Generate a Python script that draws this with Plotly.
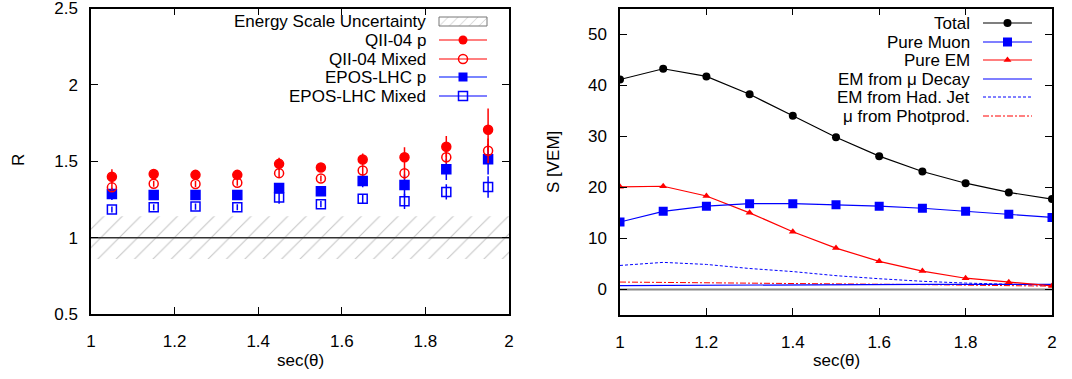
import plotly.graph_objects as go

# ---------------- data: left panel ----------------
sec_l = [1.05, 1.15, 1.25, 1.35, 1.45, 1.55, 1.65, 1.75, 1.85, 1.95]
qgs_p = [1.398, 1.416, 1.411, 1.411, 1.483, 1.459, 1.511, 1.526, 1.595, 1.706]
qgs_p_err = [0.05, 0.02, 0.02, 0.02, 0.04, 0.02, 0.04, 0.065, 0.07, 0.14]
qgs_mix = [1.329, 1.353, 1.351, 1.359, 1.422, 1.387, 1.439, 1.422, 1.526, 1.569]
qgs_mix_err = [0.02, 0.02, 0.02, 0.02, 0.03, 0.02, 0.03, 0.04, 0.04, 0.08]
epos_p = [1.286, 1.279, 1.279, 1.279, 1.325, 1.303, 1.370, 1.344, 1.448, 1.513]
epos_p_err = [0.04, 0.02, 0.02, 0.02, 0.03, 0.02, 0.04, 0.07, 0.07, 0.10]
epos_mix = [1.184, 1.199, 1.203, 1.199, 1.262, 1.219, 1.255, 1.238, 1.299, 1.331]
epos_mix_err = [0.02, 0.02, 0.02, 0.02, 0.04, 0.02, 0.03, 0.05, 0.05, 0.07]
band_x = [1.0, 2.0]
band_lo = 0.86
band_hi = 1.14
ref_R = 1.0

# ---------------- data: right panel ----------------
sec_r = [1.0, 1.1, 1.2, 1.3, 1.4, 1.5, 1.6, 1.7, 1.8, 1.9, 2.0]
total = [41.1, 43.2, 41.7, 38.2, 34.0, 29.8, 26.1, 23.1, 20.8, 19.0, 17.7]
pure_mu = [13.2, 15.3, 16.3, 16.8, 16.8, 16.6, 16.3, 15.9, 15.3, 14.7, 14.1]
pure_em = [20.1, 20.2, 18.3, 15.0, 11.3, 8.1, 5.5, 3.6, 2.2, 1.4, 0.7]
em_mu_decay = [0.75, 0.8, 0.85, 0.9, 0.95, 1.0, 1.0, 1.0, 1.0, 1.0, 1.0]
em_had_jet = [4.7, 5.3, 4.9, 4.1, 3.5, 2.7, 2.1, 1.6, 1.25, 1.0, 0.8]
mu_photo = [1.45, 1.4, 1.35, 1.3, 1.2, 1.15, 1.05, 0.95, 0.85, 0.75, 0.65]

left_legend = ["Energy Scale Uncertainty", "QII-04 p", "QII-04 Mixed", "EPOS-LHC p", "EPOS-LHC Mixed"]
right_legend = ["Total", "Pure Muon", "Pure EM", "EM from μ Decay", "EM from Had. Jet", "μ from Photprod."]

RED = "#ff0000"
BLUE = "#0000ff"
W, H = 1072, 379
FONT = "Liberation Sans, Arial, sans-serif"
FS = 17

fig = go.Figure()

# ---- left panel ----
fig.add_trace(go.Scatter(x=band_x, y=[band_lo, band_lo], mode="lines", line=dict(width=0),
                         showlegend=False, hoverinfo="skip", xaxis="x", yaxis="y"))
fig.add_trace(go.Scatter(x=band_x, y=[band_hi, band_hi], mode="lines", line=dict(width=0),
                         fill="tonexty", fillcolor="rgba(0,0,0,0)",
                         fillpattern=dict(shape="/", fgcolor="#8a8a8a", bgcolor="white", size=13, solidity=0.08),
                         showlegend=False, hoverinfo="skip", xaxis="x", yaxis="y"))
fig.add_trace(go.Scatter(x=band_x, y=[ref_R, ref_R], mode="lines", line=dict(color="#333333", width=1.5),
                         showlegend=False, xaxis="x", yaxis="y"))

def pts(x, y, err, color, symbol, size):
    return go.Scatter(x=x, y=y, mode="markers",
                      marker=dict(color=color, symbol=symbol, size=size, line=dict(color=color, width=1.5)),
                      error_y=dict(type="data", array=err, color=color, thickness=1.5, width=0),
                      showlegend=False, xaxis="x", yaxis="y")

fig.add_trace(pts(sec_l, epos_mix, epos_mix_err, BLUE, "square-open", 9))
fig.add_trace(pts(sec_l, epos_p, epos_p_err, BLUE, "square", 9))
fig.add_trace(pts(sec_l, qgs_mix, qgs_mix_err, RED, "circle-open", 9))
fig.add_trace(pts(sec_l, qgs_p, qgs_p_err, RED, "circle", 9))

# ---- right panel ----
fig.add_trace(go.Scatter(x=[1.0, 2.0], y=[0, 0], mode="lines", line=dict(color="#888888", width=2),
                         showlegend=False, xaxis="x2", yaxis="y2"))
fig.add_trace(go.Scatter(x=sec_r, y=mu_photo, mode="lines", line=dict(color=RED, width=1, dash="6px,2px,2px,2px"),
                         showlegend=False, xaxis="x2", yaxis="y2"))
fig.add_trace(go.Scatter(x=sec_r, y=em_had_jet, mode="lines", line=dict(color=BLUE, width=1, dash="3px,2px"),
                         showlegend=False, xaxis="x2", yaxis="y2"))
fig.add_trace(go.Scatter(x=sec_r, y=em_mu_decay, mode="lines", line=dict(color=BLUE, width=1.2),
                         showlegend=False, xaxis="x2", yaxis="y2"))
fig.add_trace(go.Scatter(x=sec_r, y=pure_em, mode="lines+markers", line=dict(color=RED, width=1.2),
                         marker=dict(color=RED, symbol="triangle-up", size=7),
                         showlegend=False, xaxis="x2", yaxis="y2"))
fig.add_trace(go.Scatter(x=sec_r, y=pure_mu, mode="lines+markers", line=dict(color=BLUE, width=1.2),
                         marker=dict(color=BLUE, symbol="square", size=9),
                         showlegend=False, xaxis="x2", yaxis="y2"))
fig.add_trace(go.Scatter(x=sec_r, y=total, mode="lines+markers", line=dict(color="black", width=1.2),
                         marker=dict(color="black", symbol="circle", size=8),
                         showlegend=False, xaxis="x2", yaxis="y2"))

# ---- legend samples on a pixel overlay axis (x3/y3 span the whole page) ----
def leg_line(x0, x1, y, color, dash="solid", width=1.2, marker=None):
    fig.add_trace(go.Scatter(x=[x0, x1], y=[y, y], mode="lines", line=dict(color=color, width=width, dash=dash),
                             showlegend=False, hoverinfo="skip", xaxis="x3", yaxis="y3"))
    if marker:
        fig.add_trace(go.Scatter(x=[(x0 + x1) / 2], y=[y], mode="markers", marker=marker,
                                 showlegend=False, hoverinfo="skip", xaxis="x3", yaxis="y3"))

annots = []
lrows = [21, 40, 59, 77, 96]
for txt, yy in zip(left_legend, lrows):
    annots.append(dict(x=428, y=yy, xref="x3", yref="y3", text=txt, showarrow=False, xanchor="right",
                       yanchor="middle", font=dict(size=FS, color="black", family=FONT)))
fig.add_trace(go.Scatter(x=[439, 487, 487, 439, 439], y=[17, 17, 26, 26, 17], mode="lines", fill="toself",
                         fillcolor="rgba(0,0,0,0)", line=dict(color="#777777", width=1),
                         fillpattern=dict(shape="/", fgcolor="#888888", bgcolor="white", size=7, solidity=0.12),
                         showlegend=False, hoverinfo="skip", xaxis="x3", yaxis="y3"))
leg_line(439, 487, lrows[1], RED, marker=dict(color=RED, symbol="circle", size=9))
leg_line(439, 487, lrows[2], RED, marker=dict(color=RED, symbol="circle-open", size=9, line=dict(width=1.5, color=RED)))
leg_line(439, 487, lrows[3], "#4d5cff", width=1.5, marker=dict(color=BLUE, symbol="square", size=9))
leg_line(439, 487, lrows[4], BLUE, marker=dict(color=BLUE, symbol="square-open", size=9, line=dict(width=1.5, color=BLUE)))

rrows = [23, 42, 60, 79, 97, 116]
for txt, yy in zip(right_legend, rrows):
    annots.append(dict(x=972, y=yy, xref="x3", yref="y3", text=txt, showarrow=False, xanchor="right",
                       yanchor="middle", font=dict(size=FS, color="black", family=FONT)))
leg_line(983, 1032, rrows[0], "black", marker=dict(color="black", symbol="circle", size=8))
leg_line(983, 1032, rrows[1], BLUE, marker=dict(color=BLUE, symbol="square", size=9))
leg_line(983, 1032, rrows[2], RED, marker=dict(color=RED, symbol="triangle-up", size=7))
leg_line(983, 1032, rrows[3], BLUE)
leg_line(983, 1032, rrows[4], BLUE, dash="3px,2px", width=1)
leg_line(983, 1032, rrows[5], RED, dash="6px,2px,2px,2px", width=1)

# axis titles
annots.append(dict(x=18, y=160, xref="x3", yref="y3", text="R", textangle=-90, showarrow=False,
                   font=dict(size=FS, color="black", family=FONT)))
annots.append(dict(x=553, y=162, xref="x3", yref="y3", text="S [VEM]", textangle=-90, showarrow=False,
                   font=dict(size=FS, color="black", family=FONT)))
annots.append(dict(x=300, y=360, xref="x3", yref="y3", text="sec(θ)", showarrow=False,
                   font=dict(size=FS, color="black", family=FONT)))
annots.append(dict(x=836, y=360, xref="x3", yref="y3", text="sec(θ)", showarrow=False,
                   font=dict(size=FS, color="black", family=FONT)))

ax_common = dict(showline=True, linecolor="black", linewidth=1.5, mirror="allticks", ticks="inside",
                 ticklen=7, tickcolor="black", tickwidth=1, showgrid=False, zeroline=False,
                 automargin=False, ticklabeloverflow="allow",
                 tickfont=dict(size=FS, color="black", family=FONT))
xt = [1, 1.2, 1.4, 1.6, 1.8, 2]
xtt = ["1", "1.2", "1.4", "1.6", "1.8", "2"]

fig.update_layout(
    width=W, height=H, margin=dict(l=0, r=0, t=0, b=0, pad=0, autoexpand=False),
    paper_bgcolor="white", plot_bgcolor="rgba(0,0,0,0)", showlegend=False,
    font=dict(family=FONT, size=FS, color="black"),
    xaxis=dict(domain=[91 / W, 509 / W], range=[1, 2], tickvals=xt, ticktext=xtt,
               ticklabelstandoff=11, anchor="y", **ax_common),
    yaxis=dict(domain=[1 - 314 / H, 1 - 8.5 / H], range=[0.5, 2.5], tickvals=[0.5, 1, 1.5, 2, 2.5],
               ticktext=["0.5", "1", "1.5", "2", "2.5"], ticklabelstandoff=8, anchor="x", **ax_common),
    xaxis2=dict(domain=[620 / W, 1052 / W], range=[1, 2], tickvals=xt, ticktext=xtt,
                ticklabelstandoff=11, anchor="y2", **ax_common),
    yaxis2=dict(domain=[1 - 315 / H, 1 - 8.5 / H], range=[-5, 55], tickvals=[0, 10, 20, 30, 40, 50],
                ticklabelstandoff=8, anchor="x2", **ax_common),
    xaxis3=dict(domain=[0, 1], range=[0, W], visible=False, anchor="y3", fixedrange=True, automargin=False),
    yaxis3=dict(domain=[0, 1], range=[H, 0], visible=False, anchor="x3", fixedrange=True, automargin=False),
    annotations=annots,
)

fig.write_html("out.html")
